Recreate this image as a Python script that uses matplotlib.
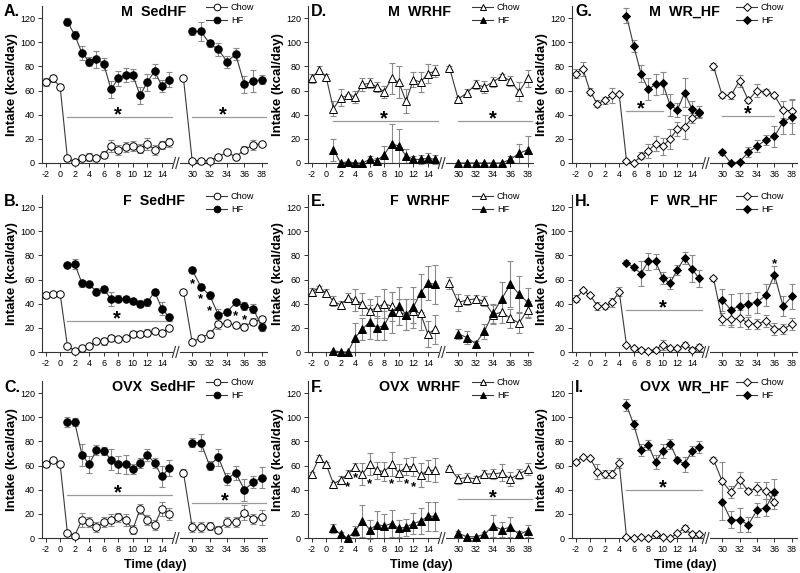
import matplotlib
matplotlib.use('Agg')
import matplotlib.pyplot as plt
from matplotlib.lines import Line2D

plt.rcParams['font.family'] = ['Liberation Sans', 'DejaVu Sans']
plt.rcParams['axes.unicode_minus'] = False

# ---------------- data ----------------
DAYS_L = [-2, -1, 0, 1, 2, 3, 4, 5, 6, 7, 8, 9, 10, 11, 12, 13, 14, 15]
DAYS_HF1 = [1, 2, 3, 4, 5, 6, 7, 8, 9, 10, 11, 12, 13, 14, 15]
DAYS_HF5 = [5, 6, 7, 8, 9, 10, 11, 12, 13, 14, 15]
DAYS_R = [29, 30, 31, 32, 33, 34, 35, 36, 37, 38]
DAYS_HF_R = [30, 31, 32, 33, 34, 35, 36, 37, 38]
DAYS_R_I = [29, 30, 31, 32, 33, 34, 35, 36]
DAYS_HF_R_I = [30, 31, 32, 33, 34, 35, 36]
XT_L = [-2, 0, 2, 4, 6, 8, 10, 12, 14]
XT_R = [30, 32, 34, 36, 38]
YT = [0, 20, 40, 60, 80, 100, 120]

# A: M SedHF
A_chow_L = [67, 70, 63, 4, 1, 4, 5, 4, 7, 14, 11, 13, 14, 12, 16, 11, 15, 17]
A_chow_L_err = [3, 3, 2, 2, 1, 1, 3, 2, 3, 5, 4, 4, 4, 4, 5, 4, 3, 4]
A_hf_L = [117, 106, 91, 84, 86, 82, 61, 70, 73, 73, 56, 67, 76, 64, 69]
A_hf_L_err = [3, 3, 6, 4, 7, 5, 7, 6, 6, 5, 7, 7, 6, 5, 6]
A_chow_R = [70, 2, 2, 2, 5, 9, 5, 11, 15, 16]
A_chow_R_err = [1, 1, 1, 1, 2, 1, 2, 3, 4, 1]
A_hf_R = [109, 109, 99, 94, 84, 90, 65, 68, 69]
A_hf_R_err = [3, 8, 3, 5, 5, 5, 7, 9, 4]

# D: M WRHF
D_chow_L = [70, 77, 71, 45, 54, 56, 55, 65, 66, 63, 59, 70, 67, 51, 69, 67, 74, 76]
D_chow_L_err = [4, 3, 3, 6, 7, 1, 5, 5, 4, 4, 5, 13, 13, 10, 6, 8, 8, 5]
D_hf_L = [11, 0, 1, 0, 0, 3, 2, 7, 16, 14, 6, 3, 3, 4, 3]
D_hf_L_err = [9, 0, 0, 0, 0, 3, 2, 7, 16, 14, 6, 3, 4, 4, 4]
D_chow_R = [79, 53, 58, 65, 63, 67, 72, 68, 59, 70]
D_chow_R_err = [1, 2, 3, 4, 5, 4, 2, 4, 8, 7]
D_hf_R = [0, 0, 0, 0, 0, 0, 3, 8, 11]
D_hf_R_err = [0, 0, 0, 0, 0, 0, 3, 8, 11]

# G: M WR_HF
G_chow_L = [74, 78, 59, 49, 52, 56, 57, 2, 0, 6, 10, 16, 14, 20, 28, 30, 37, 41]
G_chow_L_err = [4, 6, 3, 3, 3, 6, 1, 1, 1, 3, 6, 6, 7, 8, 6, 10, 4, 3]
G_hf_L = [122, 97, 74, 61, 65, 66, 48, 44, 58, 45, 42]
G_hf_L_err = [6, 5, 7, 9, 9, 9, 9, 6, 12, 6, 5]
G_chow_R = [80, 56, 56, 68, 52, 60, 59, 56, 44, 43]
G_chow_R_err = [3, 2, 3, 5, 2, 5, 2, 1, 7, 10]
G_hf_R = [9, 0, 1, 9, 14, 19, 22, 34, 38]
G_hf_R_err = [2, 0, 1, 4, 5, 4, 9, 10, 14]

# B: F SedHF
B_chow_L = [47, 48, 48, 5, 1, 3, 5, 9, 9, 12, 11, 12, 15, 15, 16, 17, 16, 20]
B_chow_L_err = [2, 1, 1, 1, 1, 1, 1, 2, 3, 2, 1, 1, 2, 2, 3, 1, 1, 1]
B_hf_L = [72, 73, 57, 56, 50, 52, 44, 44, 44, 42, 40, 41, 50, 36, 29]
B_hf_L_err = [2, 4, 3, 2, 3, 3, 6, 3, 2, 2, 3, 3, 2, 5, 2]
B_chow_R = [50, 8, 12, 15, 23, 24, 22, 21, 25, 27]
B_chow_R_err = [1, 1, 2, 3, 4, 2, 2, 3, 3, 3]
B_hf_R = [68, 54, 47, 31, 33, 41, 38, 36, 21]
B_hf_R_err = [2, 2, 3, 5, 2, 2, 3, 4, 4]

# E: F WRHF
E_chow_L = [50, 53, 49, 42, 39, 45, 43, 40, 34, 37, 40, 38, 33, 31, 34, 32, 15, 19]
E_chow_L_err = [3, 2, 3, 4, 3, 4, 9, 9, 10, 9, 12, 12, 11, 13, 10, 14, 11, 12]
E_hf_L = [1, 0, 0, 12, 19, 25, 20, 22, 33, 38, 31, 37, 49, 57, 56]
E_hf_L_err = [0, 0, 0, 12, 9, 14, 10, 12, 17, 16, 13, 17, 16, 14, 16]
E_chow_R = [57, 41, 43, 44, 42, 31, 33, 28, 24, 35]
E_chow_R_err = [5, 7, 4, 3, 4, 8, 9, 8, 8, 7]
E_hf_R = [15, 12, 7, 17, 32, 44, 56, 48, 41]
E_hf_R_err = [4, 5, 2, 6, 8, 14, 19, 15, 12]

# H: F WR_HF
H_chow_L = [44, 51, 47, 38, 38, 41, 50, 6, 3, 2, 1, 2, 6, 3, 3, 6, 2, 4]
H_chow_L_err = [3, 1, 1, 3, 2, 4, 4, 1, 1, 1, 1, 1, 4, 1, 1, 2, 2, 3]
H_hf_L = [74, 70, 65, 75, 75, 61, 57, 68, 78, 69, 61]
H_hf_L_err = [2, 2, 10, 7, 6, 5, 5, 4, 5, 11, 7]
H_chow_R = [61, 27, 27, 28, 24, 23, 26, 19, 19, 23]
H_chow_R_err = [2, 5, 6, 7, 5, 4, 5, 5, 4, 5]
H_hf_R = [43, 35, 38, 40, 41, 47, 64, 38, 46]
H_hf_R_err = [9, 13, 11, 9, 9, 9, 7, 8, 10]

# C: OVX SedHF
C_chow_L = [61, 65, 61, 4, 2, 15, 13, 9, 13, 15, 17, 15, 7, 24, 15, 11, 24, 20]
C_chow_L_err = [2, 1, 2, 1, 1, 6, 4, 4, 4, 5, 4, 5, 4, 4, 4, 4, 6, 5]
C_hf_L = [96, 96, 69, 61, 73, 72, 65, 61, 61, 57, 62, 69, 62, 51, 58]
C_hf_L_err = [4, 3, 9, 7, 4, 3, 9, 7, 8, 4, 4, 5, 4, 9, 7]
C_chow_R = [54, 9, 9, 10, 7, 13, 13, 21, 16, 17]
C_chow_R_err = [3, 4, 4, 3, 3, 4, 4, 6, 4, 6]
C_hf_R = [79, 79, 60, 67, 49, 54, 40, 46, 50]
C_hf_R_err = [4, 7, 4, 7, 5, 6, 9, 5, 9]

# F: OVX WRHF
F_chow_L = [53, 66, 61, 45, 48, 53, 59, 53, 61, 56, 55, 61, 54, 59, 59, 52, 56, 56]
F_chow_L_err = [2, 3, 2, 1, 3, 3, 3, 9, 9, 7, 8, 10, 7, 7, 8, 10, 9, 10]
F_hf_L = [8, 3, 0, 6, 14, 7, 11, 10, 12, 8, 9, 12, 14, 18, 18]
F_hf_L_err = [4, 2, 1, 4, 13, 8, 11, 10, 11, 7, 7, 9, 11, 12, 12]
F_chow_R = [58, 49, 50, 49, 53, 53, 54, 49, 53, 57]
F_chow_R_err = [2, 4, 4, 2, 3, 4, 7, 6, 4, 5]
F_hf_R = [4, 1, 1, 3, 10, 7, 9, 3, 6]
F_hf_R_err = [2, 1, 1, 2, 9, 6, 8, 3, 5]

# I: OVX WR_HF
I_chow_L = [63, 67, 66, 55, 53, 53, 62, 1, 0, 1, 0, 3, 1, 0, 4, 8, 3, 3]
I_chow_L_err = [2, 1, 1, 6, 3, 3, 4, 1, 1, 1, 1, 1, 1, 1, 1, 3, 2, 2]
I_hf_L = [110, 94, 73, 77, 63, 72, 78, 65, 61, 72, 75]
I_hf_L_err = [5, 4, 5, 4, 6, 6, 4, 2, 6, 4, 5]
I_chow_R = [65, 47, 38, 48, 39, 41, 39, 30]
I_chow_R_err = [2, 16, 5, 7, 2, 5, 7, 6]
I_hf_R = [30, 15, 15, 11, 23, 25, 38]
I_hf_R_err = [15, 7, 10, 6, 6, 7, 11]

# significance lines: (segment, x0, x1, y, star_x)
A_sig = [('L', 1, 15.4, 38, 8), ('R', 30, 38.5, 38, 33.5)]
D_sig = [('L', 1, 15.4, 35, 8), ('R', 30, 38.5, 35, 34)]
G_sig = [('L', 5, 10, 43, 7), ('R', 30, 36, 39, 33)]
B_sig = [('L', 1, 15.4, 26, 7.8)]
E_sig = []
H_sig = [('L', 5, 15.4, 35, 10)]
C_sig = [('L', 1, 15.4, 36, 8), ('R', 30, 38.5, 29, 33.7)]
F_sig = [('R', 30, 38.5, 32, 34)]
I_sig = [('L', 5, 15.4, 40, 10)]
# single stars: (segment, x, y)
B_stars = [('R', 30, 60), ('R', 31, 47), ('R', 32, 37), ('R', 35, 33), ('R', 36, 30)]
F_stars = [('L', 3, 46), ('L', 4, 53), ('L', 6, 48), ('L', 9, 48), ('L', 11, 48), ('L', 12, 46)]
H_stars = [('R', 36, 76)]

panels = [
    dict(letter='A.', title='M  SedHF', mk='o', ms=5.4, col=0, row=0,
         cL=(DAYS_L, A_chow_L, A_chow_L_err), hL=(DAYS_HF1, A_hf_L, A_hf_L_err),
         cR=(DAYS_R, A_chow_R, A_chow_R_err), hR=(DAYS_HF_R, A_hf_R, A_hf_R_err),
         sig=A_sig, stars=[]),
    dict(letter='D.', title='M  WRHF', mk='^', ms=5.4, col=1, row=0,
         cL=(DAYS_L, D_chow_L, D_chow_L_err), hL=(DAYS_HF1, D_hf_L, D_hf_L_err),
         cR=(DAYS_R, D_chow_R, D_chow_R_err), hR=(DAYS_HF_R, D_hf_R, D_hf_R_err),
         sig=D_sig, stars=[]),
    dict(letter='G.', title='M  WR_HF', mk='D', ms=4.2, col=2, row=0,
         cL=(DAYS_L, G_chow_L, G_chow_L_err), hL=(DAYS_HF5, G_hf_L, G_hf_L_err),
         cR=(DAYS_R, G_chow_R, G_chow_R_err), hR=(DAYS_HF_R, G_hf_R, G_hf_R_err),
         sig=G_sig, stars=[]),
    dict(letter='B.', title='F  SedHF', mk='o', ms=5.4, col=0, row=1,
         cL=(DAYS_L, B_chow_L, B_chow_L_err), hL=(DAYS_HF1, B_hf_L, B_hf_L_err),
         cR=(DAYS_R, B_chow_R, B_chow_R_err), hR=(DAYS_HF_R, B_hf_R, B_hf_R_err),
         sig=B_sig, stars=B_stars),
    dict(letter='E.', title='F  WRHF', mk='^', ms=5.4, col=1, row=1,
         cL=(DAYS_L, E_chow_L, E_chow_L_err), hL=(DAYS_HF1, E_hf_L, E_hf_L_err),
         cR=(DAYS_R, E_chow_R, E_chow_R_err), hR=(DAYS_HF_R, E_hf_R, E_hf_R_err),
         sig=E_sig, stars=[]),
    dict(letter='H.', title='F  WR_HF', mk='D', ms=4.2, col=2, row=1,
         cL=(DAYS_L, H_chow_L, H_chow_L_err), hL=(DAYS_HF5, H_hf_L, H_hf_L_err),
         cR=(DAYS_R, H_chow_R, H_chow_R_err), hR=(DAYS_HF_R, H_hf_R, H_hf_R_err),
         sig=H_sig, stars=H_stars),
    dict(letter='C.', title='OVX  SedHF', mk='o', ms=5.4, col=0, row=2,
         cL=(DAYS_L, C_chow_L, C_chow_L_err), hL=(DAYS_HF1, C_hf_L, C_hf_L_err),
         cR=(DAYS_R, C_chow_R, C_chow_R_err), hR=(DAYS_HF_R, C_hf_R, C_hf_R_err),
         sig=C_sig, stars=[]),
    dict(letter='F.', title='OVX  WRHF', mk='^', ms=5.4, col=1, row=2,
         cL=(DAYS_L, F_chow_L, F_chow_L_err), hL=(DAYS_HF1, F_hf_L, F_hf_L_err),
         cR=(DAYS_R, F_chow_R, F_chow_R_err), hR=(DAYS_HF_R, F_hf_R, F_hf_R_err),
         sig=F_sig, stars=F_stars),
    dict(letter='I.', title='OVX  WR_HF', mk='D', ms=4.2, col=2, row=2,
         cL=(DAYS_L, I_chow_L, I_chow_L_err), hL=(DAYS_HF5, I_hf_L, I_hf_L_err),
         cR=(DAYS_R_I, I_chow_R, I_chow_R_err), hR=(DAYS_HF_R_I, I_hf_R, I_hf_R_err),
         sig=I_sig, stars=[]),
]

# ---------------- layout ----------------
W, H = 800, 573
fig = plt.figure(figsize=(8, 5.73), dpi=100)

def fx(px):
    return px / W

def fy(py):
    return 1 - py / H

COL_X = [42, 308, 572]
ROW_Y = [(6, 163), (195, 352), (381, 538)]
LW, GAP, RW = 130, 8, 87
AX_COLOR = '#333333'
LINE_COLOR = '#3a3a3a'
ERR_COLOR = '#8a8a8a'
SIG_COLOR = '#9a9a9a'
TICK_FS = 6.5


def style_axis(ax, left):
    ax.set_ylim(0, 130)
    ax.spines['top'].set_visible(False)
    ax.spines['right'].set_visible(False)
    for s in ax.spines.values():
        s.set_color(AX_COLOR)
        s.set_linewidth(0.8)
    ax.tick_params(axis='both', labelsize=TICK_FS, length=3, width=0.7,
                   color=AX_COLOR, pad=2)
    if left:
        ax.set_yticks(YT)
    else:
        ax.spines['left'].set_visible(False)
        ax.set_yticks([])
    ax.patch.set_alpha(0)


def series(ax, data, mk, ms, fill):
    x, y, e = data
    ax.errorbar(x, y, yerr=e, fmt='none', ecolor=ERR_COLOR, elinewidth=0.8,
                capsize=2.2, capthick=0.8, zorder=2, clip_on=False)
    ax.plot(x, y, color=LINE_COLOR, lw=0.8, marker=mk, ms=ms, mfc=fill,
            mec='black', mew=0.7, zorder=3, clip_on=False)


for p in panels:
    x0 = COL_X[p['col']]
    top, bot = ROW_Y[p['row']]
    h = bot - top
    axL = fig.add_axes([fx(x0), fy(bot), LW / W, h / H])
    axR = fig.add_axes([fx(x0 + LW + GAP), fy(bot), RW / W, h / H])
    style_axis(axL, True)
    style_axis(axR, False)
    axL.set_xlim(-2.5, 15.4)
    axR.set_xlim(28.6, 38.6)
    axL.set_xticks(XT_L)
    axR.set_xticks(XT_R)

    series(axL, p['cL'], p['mk'], p['ms'], 'white')
    series(axL, p['hL'], p['mk'], p['ms'], 'black')
    series(axR, p['cR'], p['mk'], p['ms'], 'white')
    series(axR, p['hR'], p['mk'], p['ms'], 'black')

    for seg, a, b, yv, sx in p['sig']:
        ax = axL if seg == 'L' else axR
        ax.plot([a, b], [yv, yv], color=SIG_COLOR, lw=0.9, zorder=1, clip_on=False)
        ax.text(sx, yv - 3, '*', ha='center', va='baseline', fontsize=14.5,
                fontweight='bold', color='black')
    for seg, sx, sy in p['stars']:
        ax = axL if seg == 'L' else axR
        ax.text(sx, sy - 6, '*', ha='center', va='baseline', fontsize=9.5,
                fontweight='bold', color='black')

    # break marks
    for bx in (-0.07, -0.03):
        axR.plot([bx - 0.018, bx + 0.018], [-0.035, 0.035], transform=axR.transAxes,
                 color=AX_COLOR, lw=0.8, clip_on=False)

    axL.set_ylabel('Intake (kcal/day)', fontsize=9.5, fontweight='bold')
    axL.yaxis.set_label_coords(-24 / LW, 0.5)

    # title, letter
    fig.text(fx(x0 + 112), fy(top + 6), p['title'], ha='center', va='center',
             fontsize=10.3, fontweight='bold')
    lx = 4 if p['col'] == 0 else x0 + 3
    fig.text(fx(lx), fy(top + 6), p['letter'], ha='left', va='center',
             fontsize=11.5, fontweight='bold')

    handles = [
        Line2D([], [], color=LINE_COLOR, lw=0.8, marker=p['mk'], ms=p['ms'] - 0.6,
               mfc='white', mec='black', mew=0.7),
        Line2D([], [], color=LINE_COLOR, lw=0.8, marker=p['mk'], ms=p['ms'] - 0.6,
               mfc='black', mec='black', mew=0.7),
    ]
    axR.legend(handles, ['Chow', 'HF'], loc='upper left',
               bbox_to_anchor=(fx(x0 + 164), fy(top - 3)), bbox_transform=fig.transFigure,
               frameon=False, fontsize=6.6, handlelength=2.3, handletextpad=0.4,
               borderpad=0, borderaxespad=0, labelspacing=0.45)

    if p['row'] == 2:
        fig.text(fx(x0 + 113), fy(565), 'Time (day)', ha='center', va='center',
                 fontsize=9, fontweight='bold')

fig.savefig('out.png', dpi=100)
